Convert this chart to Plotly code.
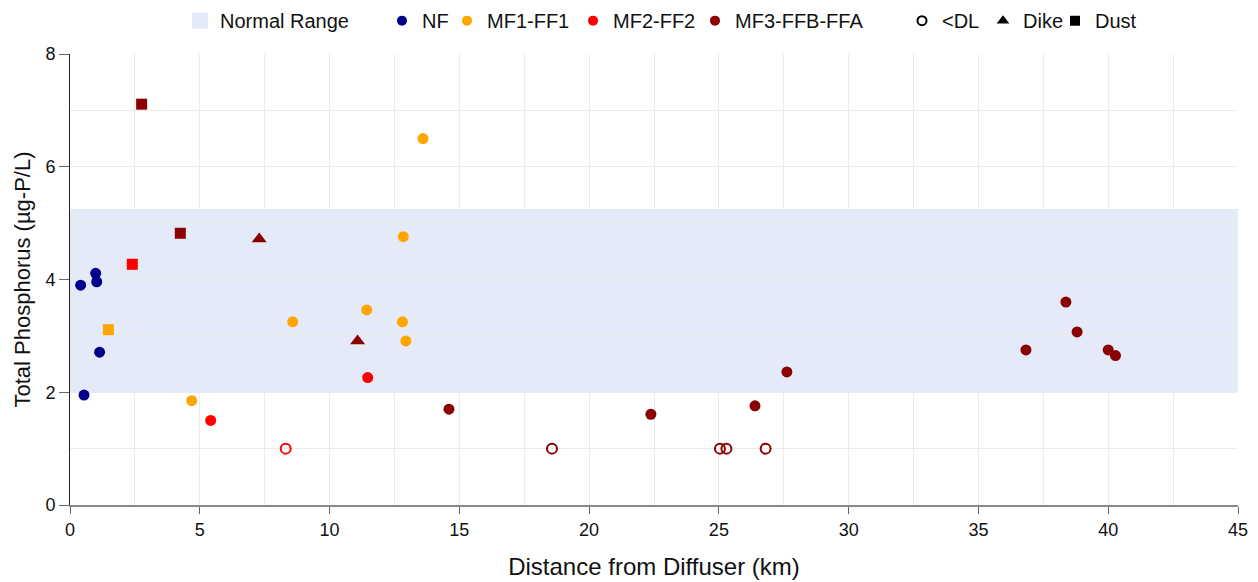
import plotly.graph_objects as go

# ---- data ----
nf_x = [0.41, 0.99, 1.03, 1.14, 0.54]
nf_y = [3.90, 4.11, 3.96, 2.71, 1.95]

mf1_x = [4.69, 8.58, 11.43, 12.81, 12.84, 12.94, 13.6]
mf1_y = [1.85, 3.25, 3.46, 3.25, 4.76, 2.91, 6.5]
mf1_dust_x = [1.48]
mf1_dust_y = [3.11]

mf2_x = [5.42, 11.47]
mf2_y = [1.50, 2.26]
mf2_dust_x = [2.40]
mf2_dust_y = [4.27]
mf2_dl_x = [8.31]
mf2_dl_y = [1.0]

mf3_x = [14.6, 22.38, 26.39, 27.62, 36.83, 38.37, 38.8, 40.0, 40.28]
mf3_y = [1.70, 1.61, 1.76, 2.36, 2.75, 3.60, 3.07, 2.75, 2.65]
mf3_dust_x = [2.76, 4.25]
mf3_dust_y = [7.11, 4.82]
mf3_dike_x = [7.29, 11.08]
mf3_dike_y = [4.72, 2.91]
mf3_dl_x = [18.57, 25.04, 25.29, 26.8]
mf3_dl_y = [1.0, 1.0, 1.0, 1.0]

normal_low, normal_high = 2.0, 5.25

groups = ["NF", "MF1-FF1", "MF2-FF2", "MF3-FFB-FFA"]
colors = {"NF": "#00008B", "MF1-FF1": "#FFA500", "MF2-FF2": "#FF0000", "MF3-FFB-FFA": "#8B0000"}
band_color = "#E5EAF9"

FONT = "Liberation Sans, Arial, sans-serif"

# legend placement (container fraction, left edge of each legend item)
leg_x = [0.1376, 0.2992, 0.3512, 0.452, 0.5496, 0.7152, 0.78, 0.8376]

fig = go.Figure()

# legend entries, each in its own legend box
legend_items = [
    ("Normal Range", dict(symbol="square", size=21, color=band_color)),
    ("NF", dict(symbol="circle", size=10, color=colors["NF"])),
    ("MF1-FF1", dict(symbol="circle", size=10, color=colors["MF1-FF1"])),
    ("MF2-FF2", dict(symbol="circle", size=10, color=colors["MF2-FF2"])),
    ("MF3-FFB-FFA", dict(symbol="circle", size=10, color=colors["MF3-FFB-FFA"])),
    ("<DL", dict(symbol="circle-open", size=9, color="black", line=dict(width=2))),
    ("Dike", dict(symbol="triangle-up", size=11, color="black")),
    ("Dust", dict(symbol="square", size=10, color="black")),
]
legend_layout = {}
for i, (name, mk) in enumerate(legend_items):
    key = "legend" if i == 0 else f"legend{i + 1}"
    fig.add_trace(go.Scatter(x=[None], y=[None], mode="markers", name=name, legend=key, marker=mk))
    legend_layout[key] = dict(orientation="h", xref="container", yref="container",
                              x=leg_x[i], xanchor="left", y=0.978, yanchor="middle",
                              font=dict(size=20), bgcolor="rgba(0,0,0,0)")

def pts(x, y, g, sym, size=11, open_=False):
    m = dict(symbol=sym, size=size, color=colors[g])
    if open_:
        m["line"] = dict(width=2, color=colors[g])
    fig.add_trace(go.Scatter(x=x, y=y, mode="markers", marker=m, showlegend=False, name=g))

pts(nf_x, nf_y, "NF", "circle")
pts(mf1_x, mf1_y, "MF1-FF1", "circle")
pts(mf1_dust_x, mf1_dust_y, "MF1-FF1", "square")
pts(mf2_x, mf2_y, "MF2-FF2", "circle")
pts(mf2_dust_x, mf2_dust_y, "MF2-FF2", "square")
pts(mf2_dl_x, mf2_dl_y, "MF2-FF2", "circle-open", size=10, open_=True)
pts(mf3_x, mf3_y, "MF3-FFB-FFA", "circle")
pts(mf3_dust_x, mf3_dust_y, "MF3-FFB-FFA", "square")
pts(mf3_dike_x, mf3_dike_y, "MF3-FFB-FFA", "triangle-up", size=13)
pts(mf3_dl_x, mf3_dl_y, "MF3-FFB-FFA", "circle-open", size=10, open_=True)

fig.add_shape(type="rect", xref="x", yref="y", x0=0, x1=45, y0=normal_low, y1=normal_high,
              fillcolor=band_color, line=dict(width=0), layer="below")

fig.update_layout(
    width=1250, height=574,
    margin=dict(l=62, r=20, t=46, b=77),
    paper_bgcolor="white", plot_bgcolor="white",
    font=dict(family=FONT, size=18, color="#111"),
    xaxis=dict(range=[0, 45], dtick=5, tick0=0, showgrid=True, gridcolor="#EBEBEB",
               minor=dict(dtick=2.5, showgrid=True, gridcolor="#EBEBEB"),
               ticks="outside", ticklen=7, tickcolor="#666", showline=True, linecolor="#888",
               linewidth=2, zeroline=False, automargin=False,
               title=dict(text="Distance from Diffuser (km)", font=dict(size=24), standoff=20),
               tickfont=dict(size=18)),
    yaxis=dict(range=[0, 8], dtick=2, tick0=0, showgrid=True, gridcolor="#EBEBEB",
               minor=dict(dtick=1, showgrid=True, gridcolor="#EBEBEB"),
               ticks="outside", ticklen=10, tickcolor="#666", showline=True, linecolor="#222",
               linewidth=1, zeroline=False, automargin=False,
               title=dict(text="Total Phosphorus (µg-P/L)", font=dict(size=22), standoff=8),
               tickfont=dict(size=18)),
    **legend_layout,
)

fig.write_html("out.html")
